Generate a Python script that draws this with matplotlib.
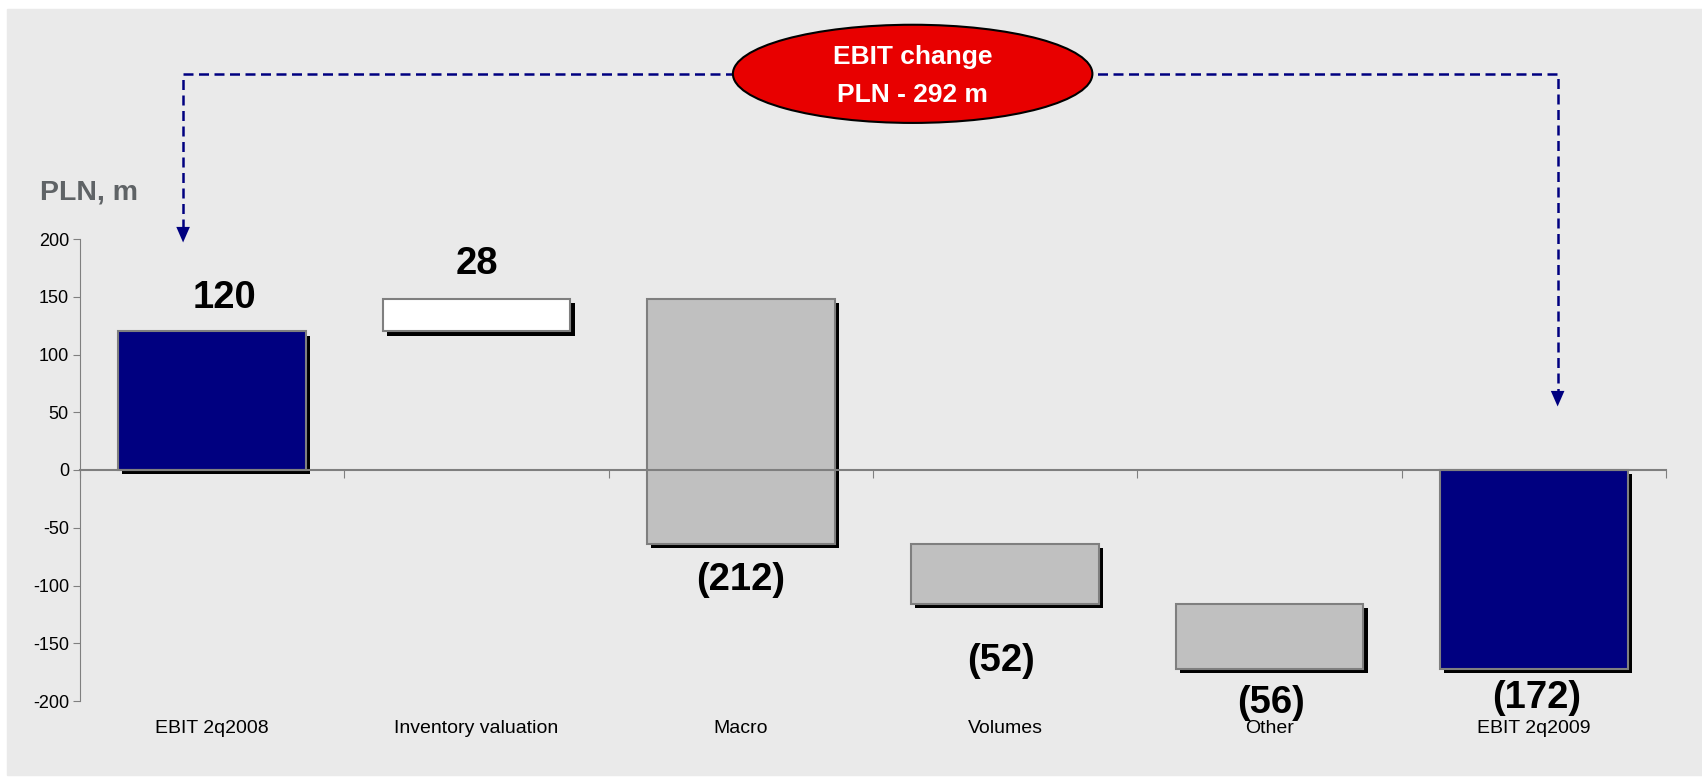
import numpy as np
import matplotlib
matplotlib.use('Agg')
import matplotlib.pyplot as plt
import matplotlib.patheffects as pe
from matplotlib.patches import Ellipse, Rectangle

plt.rcParams['font.family'] = ['Liberation Sans', 'DejaVu Sans']
plt.rcParams['axes.unicode_minus'] = False

# waterfall data (PLN, m)
categories = ['EBIT 2q2008', 'Inventory valuation', 'Macro', 'Volumes', 'Other', 'EBIT 2q2009']
start_value = 120
changes = [28, -212, -52, -56]
end_value = -172
value_labels = ['120', '28', '(212)', '(52)', '(56)', '(172)']
bar_colors = ['#000080', '#FFFFFF', '#C0C0C0', '#C0C0C0', '#C0C0C0', '#000080']
label_gap_pt = [24, 25, 26, 41, 25, 21]   # distance label <-> bar end
label_dx_pt = [9, 0, 0, -3, 1, 2]

levels = np.cumsum([start_value] + changes)
bottoms = np.array([0] + list(levels[:-1]) + [0])
heights = np.array([start_value] + changes + [end_value])
x = np.arange(len(categories))

fig = plt.figure(figsize=(17.02, 7.80), dpi=100)
fig.patches.append(Rectangle((7/1702, 1-775/780), 1-7/1702, 766/780,
                             transform=fig.transFigure, color='#EAEAEA', zorder=-5))
ax = fig.add_axes([80/1702, 1-701/780, 1586/1702, 462/780])
ax.set_facecolor('none')
ax.set_zorder(1)

bars = ax.bar(x, heights, bottom=bottoms, width=0.71, color=bar_colors,
              edgecolor='#7F7F7F', linewidth=1.5, zorder=2)
for b in bars:
    b.set_path_effects([pe.SimplePatchShadow(offset=(3, -3), shadow_rgbFace='black', alpha=1),
                        pe.Normal()])

for i, (bt, h, lab) in enumerate(zip(bottoms, heights, value_labels)):
    end = bt + h
    dy = label_gap_pt[i] if h > 0 else -label_gap_pt[i]
    ax.annotate(lab, (x[i], end), xytext=(label_dx_pt[i], dy), textcoords='offset points',
                ha='center', va='center', fontsize=27.5, fontweight='bold', zorder=5)

ax.set_xlim(-0.5, len(categories) - 0.5)
ax.set_ylim(-200, 200)
ax.set_yticks(np.arange(-200, 201, 50))
ax.tick_params(axis='y', length=5, color='#7F7F7F', labelsize=13, pad=3)
ax.set_xticks(np.arange(-0.5, len(categories), 1.0))
ax.set_xticklabels([])
ax.tick_params(axis='x', length=6, color='#7F7F7F', direction='out')
for s in ['top', 'right']:
    ax.spines[s].set_visible(False)
ax.spines['bottom'].set_position(('data', 0))
ax.spines['bottom'].set_color('#7F7F7F')
ax.spines['bottom'].set_linewidth(1.5)
ax.spines['bottom'].set_zorder(3)
ax.spines['left'].set_color('#7F7F7F')

for i, c in enumerate(categories):
    ax.text(x[i], -0.0606, c, transform=ax.get_xaxis_transform(),
            ha='center', va='center', fontsize=14)

fig.text(40/1702, 1-193/780, 'PLN, m', ha='left', va='center',
         fontsize=20.5, fontweight='bold', color='#5F6366')

# bracket with arrows and the EBIT change bubble
navy = '#000080'
bracket_y = 343
left_x, right_x = -0.11, 5.09
left_tip, right_tip = 197, 55
ax.plot([left_x, left_x, right_x, right_x],
        [left_tip + 12, bracket_y, bracket_y, right_tip + 12],
        color=navy, lw=1.8, dashes=(4, 2.2), clip_on=False, zorder=3)
for xt, yt in [(left_x, left_tip), (right_x, right_tip)]:
    ax.annotate('', xy=(xt, yt), xytext=(xt, yt + 14),
                arrowprops=dict(arrowstyle='-|>,head_length=0.8,head_width=0.35',
                                color=navy, lw=0, mutation_scale=14,
                                shrinkA=0, shrinkB=0),
                annotation_clip=False)

ell = Ellipse((2.65, bracket_y), 1.36, 85, facecolor='#E80000',
              edgecolor='black', lw=1.5, clip_on=False, zorder=4)
ax.add_patch(ell)
ax.text(2.65, 358, 'EBIT change', ha='center', va='center', color='white',
        fontsize=19, fontweight='bold', zorder=5, clip_on=False)
ax.text(2.65, 325, 'PLN - 292 m', ha='center', va='center', color='white',
        fontsize=19, fontweight='bold', zorder=5, clip_on=False)

fig.savefig('out.png', dpi=100, facecolor='white')
